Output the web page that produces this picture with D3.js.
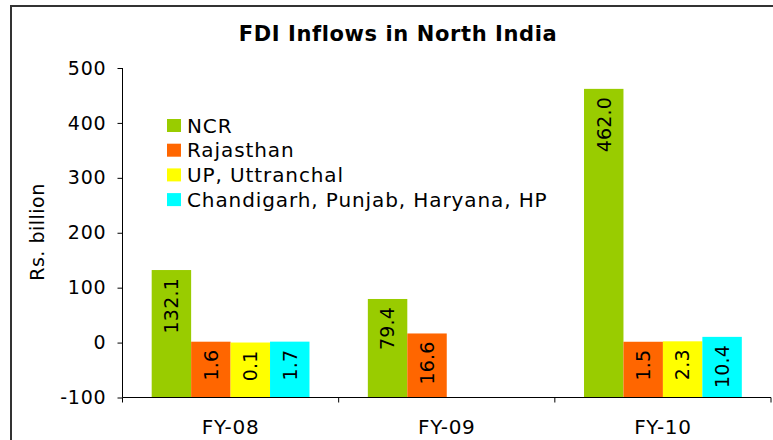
<!DOCTYPE html>
<html lang="en">
<head>
<meta charset="utf-8">
<title>FDI Inflows in North India</title>
<script src="https://cdn.jsdelivr.net/npm/d3@7"></script>
<style>
  body { margin: 0; background: #fff; }
  svg text { font-family: "DejaVu Sans", Verdana, sans-serif; fill: #000; }
</style>
</head>
<body>
<div id="chart"></div>
<script>
// values in Rs. billion
var years = ["FY-08", "FY-09", "FY-10"];
var regions = ["NCR", "Rajasthan", "UP, Uttranchal", "Chandigarh, Punjab, Haryana, HP"];
var colors = ["#99CC00", "#FF6600", "#FFFF00", "#00FFFF"];
var ncr = [132.1, 79.4, 462.0];
var rajasthan = [1.6, 16.6, 1.5];
var upUttranchal = [0.1, null, 2.3];
var chandigarhEtc = [1.7, null, 10.4];
var yTicks = [-100, 0, 100, 200, 300, 400, 500];

var series = [ncr, rajasthan, upUttranchal, chandigarhEtc];

var width = 773, height = 440;
var plot = {left: 122.5, right: 771, top: 68, bottom: 397.5};

var svg = d3.select("#chart").append("svg")
    .attr("width", width)
    .attr("height", height);

// outer frame
svg.append("rect")
    .attr("x", 11).attr("y", 6)
    .attr("width", 800).attr("height", 480)
    .attr("fill", "none")
    .attr("stroke", "#333")
    .attr("stroke-width", 2);

svg.append("text")
    .attr("x", 398).attr("y", 41)
    .attr("text-anchor", "middle")
    .attr("font-size", 21)
    .attr("font-weight", "bold")
    .attr("letter-spacing", 0.6)
    .text("FDI Inflows in North India");

var y = d3.scaleLinear().domain([-100, 500]).range([plot.bottom, plot.top]);
var x0 = d3.scaleBand().domain(years).range([plot.left, plot.right]);
var gap = x0.bandwidth() * 0.135;
var x1 = d3.scaleBand().domain(d3.range(regions.length)).range([gap, x0.bandwidth() - gap]);

// bars start at the axis minimum, as in the original
var bars = svg.append("g");
series.forEach(function (vals, si) {
    vals.forEach(function (v, yi) {
        if (v == null) return;
        var bx = x0(years[yi]) + x1(si);
        bars.append("rect")
            .attr("x", bx)
            .attr("y", y(v))
            .attr("width", x1.bandwidth())
            .attr("height", y(-100) - y(v))
            .attr("fill", colors[si]);
        bars.append("text")
            .attr("transform", "translate(" + (bx + x1.bandwidth() / 2) + "," + (y(v) + 8) + ") rotate(-90)")
            .attr("text-anchor", "end")
            .attr("dy", "0.36em")
            .attr("font-size", 19)
            .attr("letter-spacing", 0.2)
            .text(v.toFixed(1));
    });
});

// y axis
var yAxis = svg.append("g")
    .attr("transform", "translate(" + plot.left + ",0)")
    .call(d3.axisLeft(y).tickValues(yTicks).tickSize(5).tickPadding(11)
        .tickFormat(function (d) { return String(d); }));
yAxis.select(".domain").attr("d", "M0," + plot.top + "V" + plot.bottom).attr("stroke", "#000");
yAxis.selectAll("text").attr("font-size", 19).attr("letter-spacing", 0.8).attr("fill", "#000");

// x axis (crosses at -100)
var xAxis = svg.append("g")
    .attr("transform", "translate(0," + plot.bottom + ")")
    .call(d3.axisBottom(x0).tickSize(0).tickPadding(22));
xAxis.select(".domain").attr("d", "M" + plot.left + ",0H" + plot.right).attr("stroke", "#000");
xAxis.selectAll("text").attr("font-size", 20).attr("letter-spacing", 0.7).attr("fill", "#000");
xAxis.selectAll("line.sep")
    .data(years.map(function (d) { return x0(d); }).concat([plot.right]))
    .enter().append("line")
    .attr("class", "sep")
    .attr("x1", function (d) { return d; })
    .attr("x2", function (d) { return d; })
    .attr("y1", 0).attr("y2", 5)
    .attr("stroke", "#000");

svg.append("text")
    .attr("transform", "translate(44,232) rotate(-90)")
    .attr("text-anchor", "middle")
    .attr("font-size", 19)
    .attr("letter-spacing", 0.5)
    .text("Rs. billion");

// legend
var legend = svg.append("g").selectAll("g")
    .data(regions)
    .enter().append("g")
    .attr("transform", function (d, i) { return "translate(167," + (119 + i * 24.7) + ")"; });
legend.append("rect")
    .attr("width", 14).attr("height", 13)
    .attr("fill", function (d, i) { return colors[i]; });
legend.append("text")
    .attr("x", 20).attr("y", 13.5)
    .attr("font-size", 20)
    .attr("letter-spacing", 0.9)
    .text(function (d) { return d; });
</script>
</body>
</html>
